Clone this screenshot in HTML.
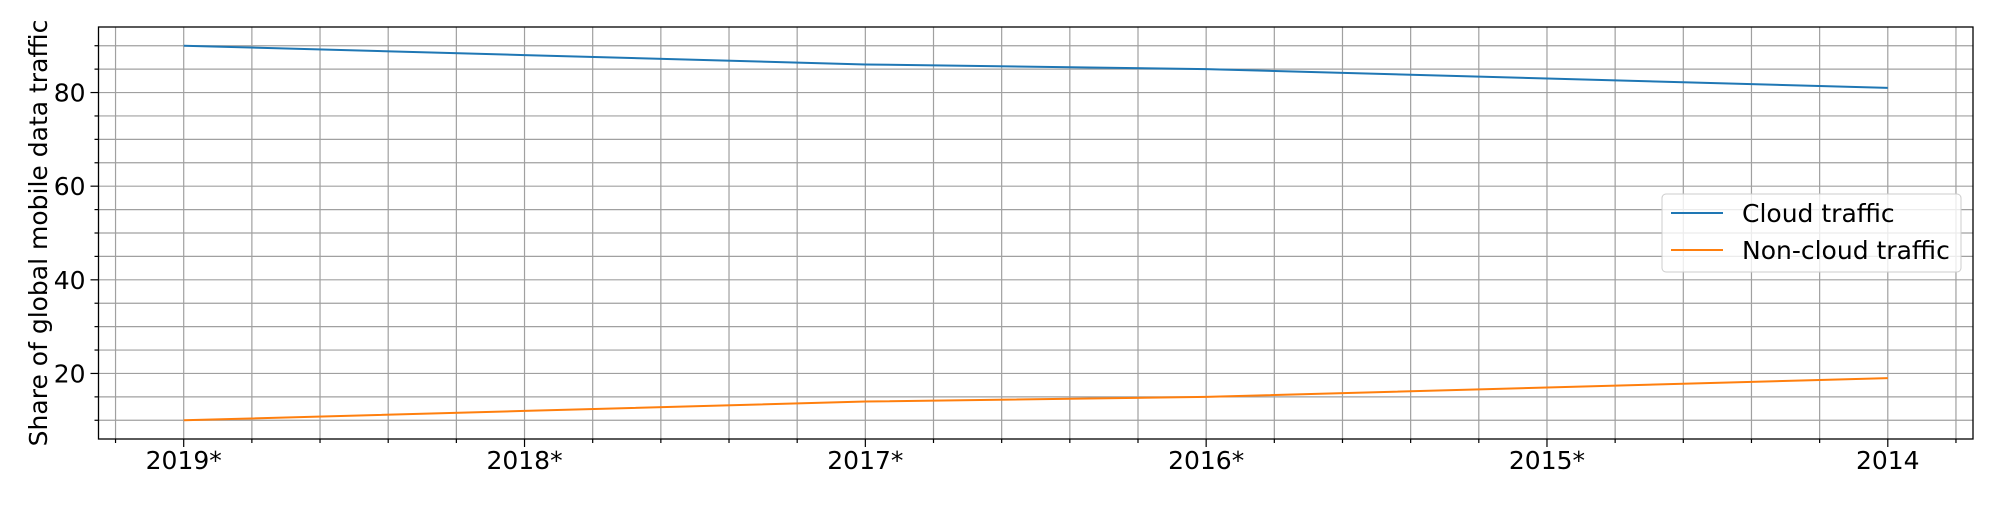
<!DOCTYPE html>
<html><head><meta charset="utf-8"><style>
body{margin:0;background:#fff;}
svg text{font-family:"DejaVu Sans","Liberation Sans",sans-serif;font-size:25px;fill:#000;}
</style></head><body>
<svg id="chart" width="2000" height="500" viewBox="0 0 2000 500" xmlns="http://www.w3.org/2000/svg">
<rect width="2000" height="500" fill="#fff"/>
<g id="grid"></g>
<g id="series"></g>
<rect x="98.5" y="27" width="1874.5" height="412" fill="none" stroke="#000" stroke-width="1.3"/>
<g id="ticks"></g>
<text transform="translate(47,233) rotate(-90)" text-anchor="middle">Share of global mobile data traffic</text>
<g>
<rect x="1662" y="194" width="299" height="78" rx="4" fill="#fff" fill-opacity="0.8" stroke="#ccc"/>
<line x1="1671" y1="213" x2="1723" y2="213" stroke="#1f77b4" stroke-width="2"/>
<text x="1742" y="222">Cloud traffic</text>
<line x1="1671" y1="250" x2="1723" y2="250" stroke="#ff7f0e" stroke-width="2"/>
<text x="1742" y="259">Non-cloud traffic</text>
</g>
</svg>
<script>
const categories = ["2019*","2018*","2017*","2016*","2015*","2014"];
const cloudValues = [90, 88, 86, 85, 83, 81];
const nonCloudValues = [10, 12, 14, 15, 17, 19];
const yTickLabels = [20, 40, 60, 80];

const L=98.5,R=1973,T=27,B=439;
const xMin=-0.25,xMax=categories.length-1+0.25;
const allV=cloudValues.concat(nonCloudValues);
const vMin=Math.min(...allV),vMax=Math.max(...allV),pad=(vMax-vMin)*0.05;
const yMin=vMin-pad,yMax=vMax+pad;
const xs=i=>L+(i-xMin)/(xMax-xMin)*(R-L);
const ys=v=>B-(v-yMin)/(yMax-yMin)*(B-T);
const NS="http://www.w3.org/2000/svg";
function mk(tag,attrs,parent){const e=document.createElementNS(NS,tag);for(const k in attrs)e.setAttribute(k,attrs[k]);parent.appendChild(e);return e;}
const grid=document.getElementById('grid'),ticks=document.getElementById('ticks'),series=document.getElementById('series');
for(let k=Math.ceil(xMin/0.2);k*0.2<=xMax;k++){const v=k*0.2;const x=xs(v);
 const g=mk('line',{x1:x,x2:x,y1:T,y2:B,stroke:'#a0a0a0','stroke-width':1.2},grid);
 
 
 const major=Math.abs(v-Math.round(v))<1e-6;
 const t=mk('line',{x1:x,x2:x,y1:B,y2:B+(major?8:4),stroke:'#000','stroke-width':1.2},ticks);
 
 
}
categories.forEach((c,i)=>{const t=mk('text',{x:xs(i),y:469,'text-anchor':'middle'},ticks);t.textContent=c;
 
 
});
for(let v=Math.ceil(yMin/5)*5;v<=yMax;v+=5){const y=ys(v);
 const g=mk('line',{x1:L,x2:R,y1:y,y2:y,stroke:'#a0a0a0','stroke-width':1.2},grid);
 
 
 const t=mk('line',{x1:L-(v%20===0?8:4),x2:L,y1:y,y2:y,stroke:'#000','stroke-width':1.2},ticks);
 
 
}
yTickLabels.forEach(v=>{const t=mk('text',{x:L-13,y:ys(v)+9,'text-anchor':'end'},ticks);t.textContent=v;
 
 
});
function line(vals,color,name){const p=mk('polyline',{points:vals.map((v,i)=>xs(i)+','+ys(v)).join(' '),fill:'none',stroke:color,'stroke-width':2},series);
 
 
}
line(cloudValues,'#1f77b4','cloud-traffic-line');
line(nonCloudValues,'#ff7f0e','noncloud-traffic-line');
</script>
</body></html>
